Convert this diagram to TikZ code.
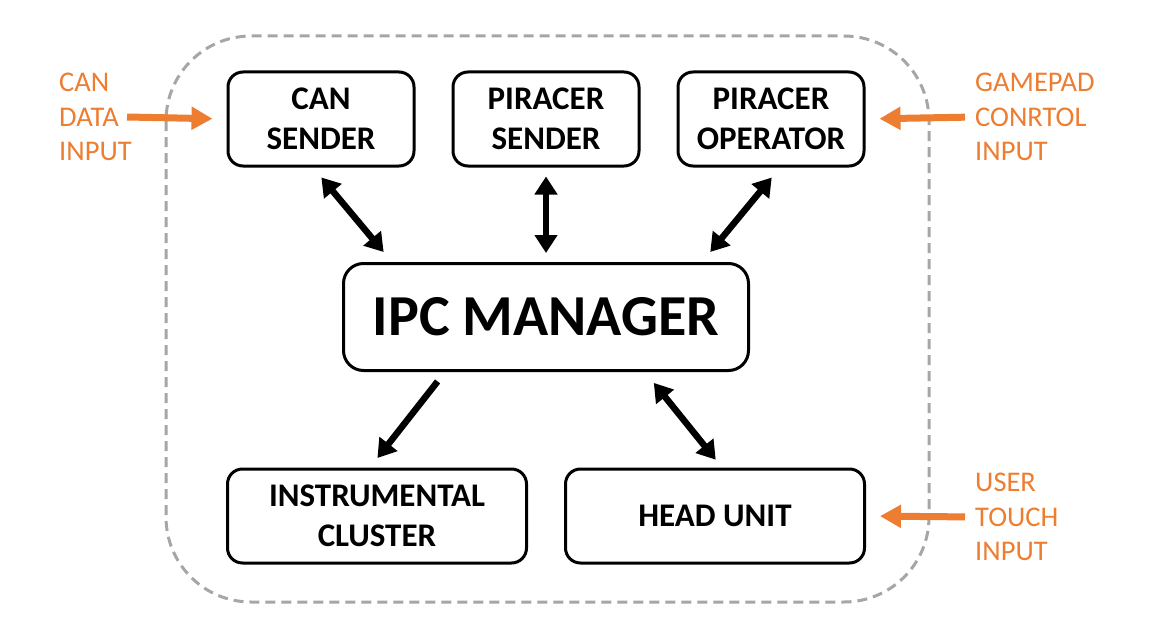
\documentclass[tikz,border=0pt]{standalone}
\usepackage{fontspec}
\setmainfont{Carlito}
\usepackage{tikz}
\usetikzlibrary{calc,arrows.meta,positioning}
\definecolor{inputorange}{HTML}{ED7D31}
\definecolor{framegray}{HTML}{A6A6A6}

\begin{document}
\begin{tikzpicture}[x=1pt, y=-1pt,
		block/.style={rectangle, draw, line width=3pt, rounded corners=15pt, fill=white, align=center, minimum width=186pt, minimum height=94pt, inner sep=0pt, font=\fontsize{33}{40}\selectfont\bfseries},
		bigblock/.style={block, rounded corners=20pt, minimum width=405pt, minimum height=107pt, font=\fontsize{58}{60}\selectfont\bfseries},
		wideblock/.style={block, minimum width=299pt},
		link/.style={draw, line width=6.5pt, {Triangle[length=18pt,width=22pt]}-{Triangle[length=18pt,width=22pt]}},
		oneway/.style={draw, line width=6.5pt, -{Triangle[length=18pt,width=22pt]}},
		feed/.style={draw, inputorange, line width=7pt, -{Triangle[length=21pt,width=22pt]}},
		note/.style={text=inputorange, align=left, anchor=west, inner sep=0pt, font=\fontsize{28.5}{34.5}\selectfont}]
		\useasboundingbox (0,0) rectangle (1152,634);

		% Frame
		\draw [framegray, line width=3pt, dash pattern=on 10pt off 6pt, rounded corners=85pt] (166,36) rectangle (929,602);

		% Nodes
		\node [block] (cansender) at (321,119) {CAN\\SENDER};
		\node [block, right=36pt of cansender] (pisender) {PIRACER\\SENDER};
		\node [block, right=36pt of pisender] (pioperator) {PIRACER\\OPERATOR};
		\node [bigblock] (ipc) at (546,317) {IPC MANAGER};
		\node [wideblock] (cluster) at (377,516) {INSTRUMENTAL\\CLUSTER};
		\node [wideblock, right=36pt of cluster] (headunit) {HEAD UNIT};

		% Inputs
		\node [note] (candata) at (59,117) {CAN\\DATA\\INPUT};
		\node [note] (gamepad) at (975,117) {GAMEPAD\\CONRTOL\\INPUT};
		\node [note] (touch) at (975,517) {USER\\TOUCH\\INPUT};
		\coordinate (candatatail) at (127,117);

		% Paths
		\path [link, shorten <=13pt, shorten >=13pt] ([xshift=-8pt]cansender.south) -- ([xshift=-154pt]ipc.north);
		\path [link, shorten <=9pt, shorten >=9pt] (pisender.south) -- (ipc.north);
		\path [link, shorten <=13pt, shorten >=13pt] ([xshift=9pt]pioperator.south) -- ([xshift=156pt]ipc.north);
		\path [oneway, shorten <=12pt, shorten >=12pt] ([xshift=-101pt]ipc.south) -- ([xshift=-7pt]cluster.north);
		\path [link, shorten <=14pt, shorten >=10pt] ([xshift=99pt]ipc.south) -- ([xshift=7pt]headunit.north);

		\path [feed, shorten >=14pt] (candatatail) -- (cansender.west);
		\path [feed, shorten <=10pt, shorten >=14pt] (gamepad.west) -- (pioperator.east);
		\path [feed, shorten <=10pt, shorten >=14pt] (touch.west) -- (headunit.east);
	\end{tikzpicture}
\end{document}
